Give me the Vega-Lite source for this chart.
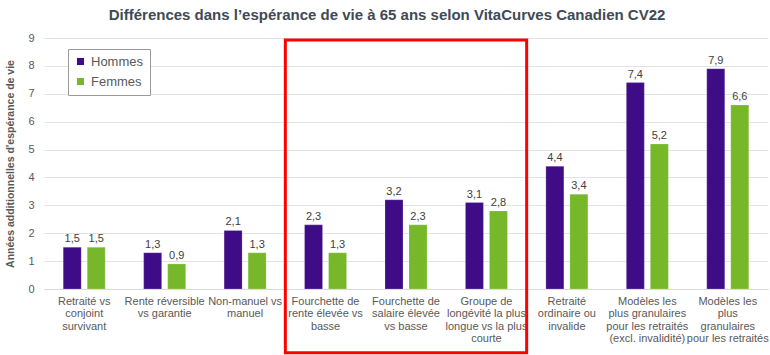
{
  "$schema": "https://vega.github.io/schema/vega-lite/v6.json",
  "autosize": "none",
  "width": 724,
  "height": 251,
  "padding": {"left": 44, "top": 38, "right": 2, "bottom": 66},
  "background": "white",
  "title": {
    "text": "Différences dans l’espérance de vie à 65 ans selon VitaCurves Canadien CV22",
    "font": "Liberation Sans",
    "fontSize": 15,
    "fontWeight": "bold",
    "color": "#404a55",
    "anchor": "middle",
    "frame": "bounds",
    "offset": 9
  },
  "datasets": {
    "bars": [
      {"cat": "Retraité vs|conjoint|survivant", "sexe": "Hommes", "v": 1.5, "lab": "1,5"},
      {"cat": "Retraité vs|conjoint|survivant", "sexe": "Femmes", "v": 1.5, "lab": "1,5"},
      {"cat": "Rente réversible|vs garantie", "sexe": "Hommes", "v": 1.3, "lab": "1,3"},
      {"cat": "Rente réversible|vs garantie", "sexe": "Femmes", "v": 0.9, "lab": "0,9"},
      {"cat": "Non-manuel vs|manuel", "sexe": "Hommes", "v": 2.1, "lab": "2,1"},
      {"cat": "Non-manuel vs|manuel", "sexe": "Femmes", "v": 1.3, "lab": "1,3"},
      {"cat": "Fourchette de|rente élevée vs|basse", "sexe": "Hommes", "v": 2.3, "lab": "2,3"},
      {"cat": "Fourchette de|rente élevée vs|basse", "sexe": "Femmes", "v": 1.3, "lab": "1,3"},
      {"cat": "Fourchette de|salaire élevée|vs basse", "sexe": "Hommes", "v": 3.2, "lab": "3,2"},
      {"cat": "Fourchette de|salaire élevée|vs basse", "sexe": "Femmes", "v": 2.3, "lab": "2,3"},
      {"cat": "Groupe de|longévité la plus|longue vs la plus|courte", "sexe": "Hommes", "v": 3.1, "lab": "3,1"},
      {"cat": "Groupe de|longévité la plus|longue vs la plus|courte", "sexe": "Femmes", "v": 2.8, "lab": "2,8"},
      {"cat": "Retraité|ordinaire ou|invalide", "sexe": "Hommes", "v": 4.4, "lab": "4,4"},
      {"cat": "Retraité|ordinaire ou|invalide", "sexe": "Femmes", "v": 3.4, "lab": "3,4"},
      {"cat": "Modèles les|plus granulaires|pour les retraités|(excl. invalidité)", "sexe": "Hommes", "v": 7.4, "lab": "7,4"},
      {"cat": "Modèles les|plus granulaires|pour les retraités|(excl. invalidité)", "sexe": "Femmes", "v": 5.2, "lab": "5,2"},
      {"cat": "Modèles les|plus|granulaires|pour les retraités", "sexe": "Hommes", "v": 7.9, "lab": "7,9"},
      {"cat": "Modèles les|plus|granulaires|pour les retraités", "sexe": "Femmes", "v": 6.6, "lab": "6,6"}
    ],
    "box": [
      {"from": "Fourchette de|rente élevée vs|basse", "to": "Groupe de|longévité la plus|longue vs la plus|courte", "top": 8.93, "bottom": -2.29}
    ]
  },
  "layer": [
    {
      "data": {"name": "bars"},
      "mark": {"type": "bar", "stroke": "white", "strokeWidth": 0.5, "strokeOpacity": 0.4},
      "encoding": {
        "x": {"field": "cat", "type": "nominal", "title": null,
          "scale": {"domain": ["Retraité vs|conjoint|survivant", "Rente réversible|vs garantie", "Non-manuel vs|manuel", "Fourchette de|rente élevée vs|basse", "Fourchette de|salaire élevée|vs basse", "Groupe de|longévité la plus|longue vs la plus|courte", "Retraité|ordinaire ou|invalide", "Modèles les|plus granulaires|pour les retraités|(excl. invalidité)", "Modèles les|plus|granulaires|pour les retraités"], "paddingInner": 0, "paddingOuter": 0},
          "axis": {"labelAngle": 0, "labelExpr": "split(datum.label, '|')", "labelFont": "Liberation Sans", "labelFontSize": 11, "labelColor": "#595959", "labelLineHeight": 12.5, "labelPadding": 6, "ticks": false, "domainColor": "#d9d9d9", "labelLimit": 200}
        },
        "xOffset": {"field": "sexe", "type": "nominal", "sort": ["Hommes", "Femmes"], "scale": {"paddingInner": 0.25, "paddingOuter": 0.8}},
        "y": {"field": "v", "type": "quantitative", "title": "Années additionnelles d'espérance de vie",
          "scale": {"domain": [0, 9], "nice": false},
          "axis": {"tickCount": 9, "tickMinStep": 1, "labelOverlap": false}
        },
        "color": {"field": "sexe", "type": "nominal", "sort": ["Hommes", "Femmes"],
          "scale": {"domain": ["Hommes", "Femmes"], "range": ["#3f0c87", "#76b82a"]},
          "legend": {"title": null, "orient": "none", "legendX": 24, "legendY": 11, "symbolType": "square", "symbolSize": 50, "labelFont": "Liberation Sans", "labelFontSize": 13, "labelColor": "#595959", "strokeColor": "#9a9a9a", "padding": 6, "rowPadding": 6, "fillColor": "white", "symbolStrokeWidth": 0}
        }
      }
    },
    {
      "data": {"name": "bars"},
      "mark": {"type": "text", "dy": -8, "font": "Liberation Sans", "fontSize": 11, "color": "#404040"},
      "encoding": {
        "x": {"field": "cat", "type": "nominal"},
        "xOffset": {"field": "sexe", "type": "nominal", "sort": ["Hommes", "Femmes"]},
        "y": {"field": "v", "type": "quantitative"},
        "text": {"field": "lab"}
      }
    },
    {
      "data": {"name": "box"},
      "mark": {"type": "rect", "filled": false, "stroke": "#ff0000", "strokeWidth": 3, "clip": false},
      "encoding": {
        "x": {"field": "from", "type": "nominal", "bandPosition": 0},
        "x2": {"field": "to", "bandPosition": 1},
        "y": {"field": "top", "type": "quantitative"},
        "y2": {"field": "bottom"}
      }
    }
  ],
  "config": {
    "view": {"stroke": null},
    "axisY": {"tickCount": 9, "domain": false, "ticks": false, "labelPadding": 10, "labelFont": "Liberation Sans", "labelFontSize": 11, "labelColor": "#595959", "gridColor": "#e3e3e3", "titleFont": "Liberation Sans", "titleFontSize": 10.5, "titleFontWeight": "bold", "titleColor": "#595959", "titlePadding": 12}
  }
}
